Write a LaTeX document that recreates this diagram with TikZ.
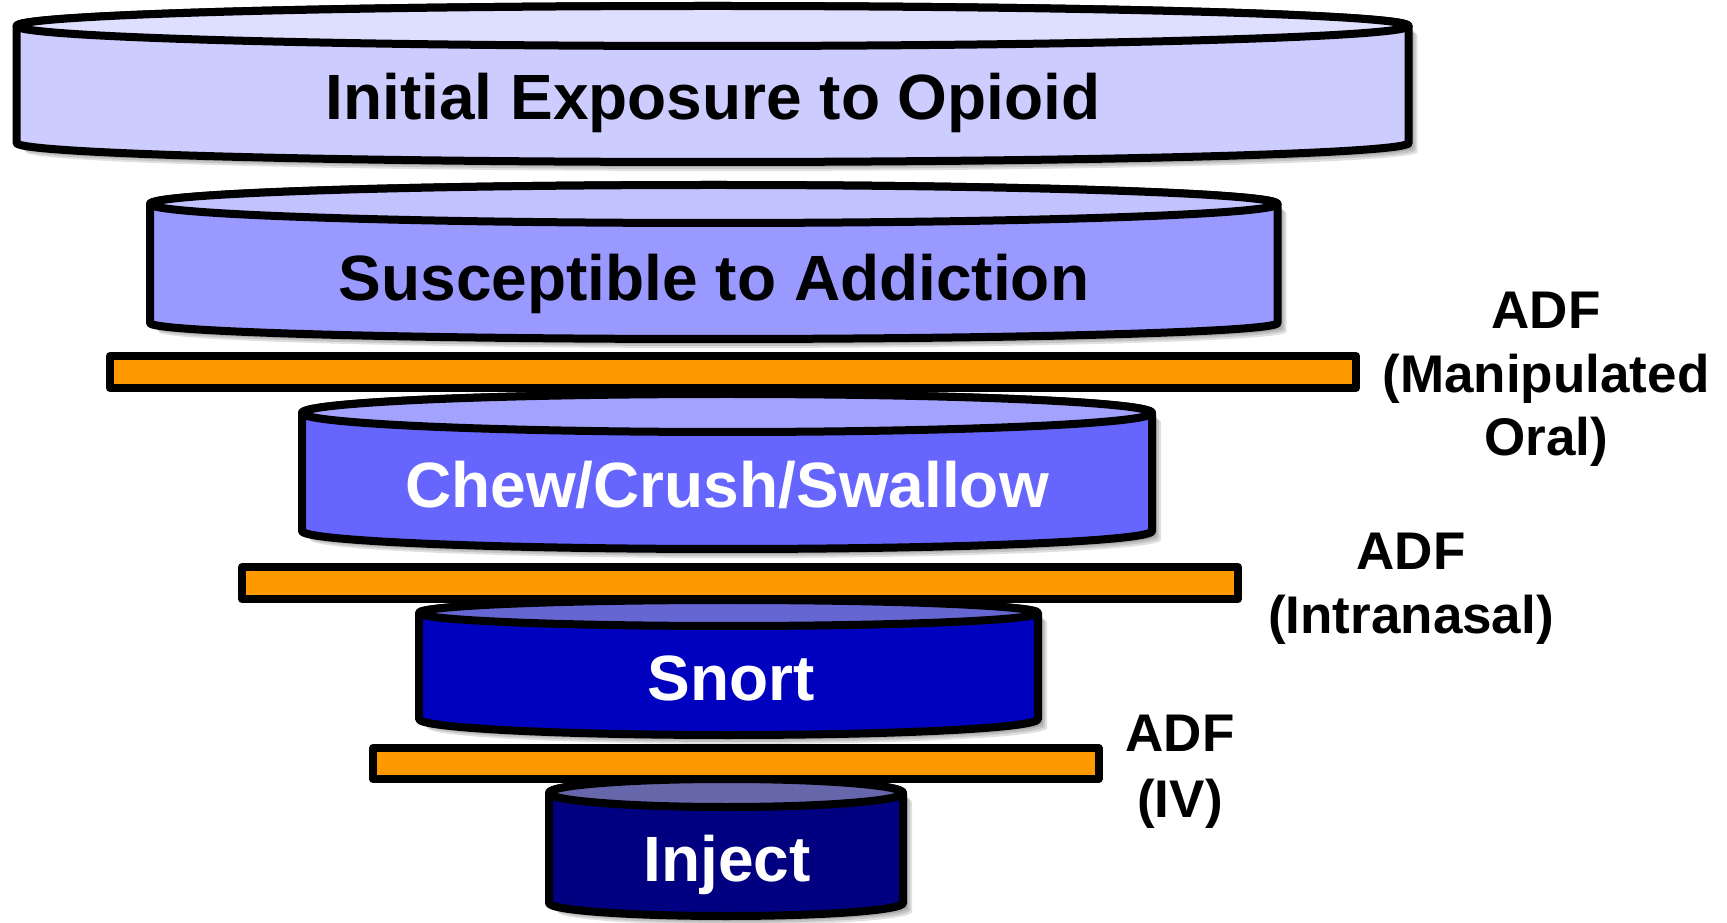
\documentclass[tikz,border=0pt]{standalone}
\usepackage{fontspec}
\setmainfont{Liberation Sans}
\begin{document}
\begin{tikzpicture}[x=1pt,y=1pt,
  cylline/.style={draw=black,line width=8pt,line join=round},
  barbox/.style={draw=black,line width=8pt,fill=adforange,line join=round},
  shadowc/.style={fill=black,opacity=0.12},
  maintext/.style={font=\fontsize{64}{72}\selectfont\bfseries,inner sep=0pt,anchor=base},
  adftext/.style={font=\fontsize{53}{62}\selectfont\bfseries,inner sep=0pt,anchor=base,text=black}]
\definecolor{adforange}{HTML}{FF9900}
\definecolor{sideA}{HTML}{CCCCFF}\definecolor{topA}{HTML}{DEDEFF}
\definecolor{sideB}{HTML}{9999FF}\definecolor{topB}{HTML}{C2C2FF}
\definecolor{sideC}{HTML}{6666FF}\definecolor{topC}{HTML}{A3A3FF}
\definecolor{sideD}{HTML}{0000BF}\definecolor{topD}{HTML}{6666D2}
\definecolor{sideE}{HTML}{000080}\definecolor{topE}{HTML}{6666AA}
% #1 cx, #2 rx, #3 top cy (from top), #4 top ry, #5 bottom cy, #6 bottom ry, #7 side, #8 top
\newcommand\cylbody[6]{({#1-#2},{922-#3}) -- ({#1-#2},{922-#5})
    arc[start angle=180,end angle=360,x radius=#2,y radius=#6] -- ({#1+#2},{922-#3})
    arc[start angle=0,end angle=180,x radius=#2,y radius=#4] -- cycle}
\newcommand\funnelcyl[8]{%
  \foreach \s in {3,5,7,9}{\fill[shadowc,xshift=\s pt,yshift=-\s pt] \cylbody{#1}{#2}{#3}{#4}{#5}{#6};}
  \draw[cylline,fill=#7] \cylbody{#1}{#2}{#3}{#4}{#5}{#6};
  \draw[cylline,fill=#8] (#1,{922-#3}) ellipse[x radius=#2,y radius=#4];
}
\fill[white] (0,0) rectangle (1727,922);
\useasboundingbox (0,0) rectangle (1727,922);
% cylinders
\funnelcyl{712.6}{696}{26}{20}{143}{19}{sideA}{topA}
\funnelcyl{713.75}{563.75}{204}{19}{323}{16}{sideB}{topB}
\funnelcyl{727}{425}{413}{19}{531}{18}{sideC}{topC}
\funnelcyl{728.5}{309.5}{613}{13}{719}{16}{sideD}{topD}
\funnelcyl{726}{177}{793}{14}{903}{13}{sideE}{topE}
% texts
\node[maintext] (t1) at (713,{922-120}) {Initial Exposure to Opioid};
\node[maintext] (t2) at (714,{922-301}) {Susceptible to Addiction};
\node[maintext,text=white] (t3) at (727,{922-508}) {Chew/Crush/Swallow};
\node[maintext,text=white] (t4) at (731,{922-700}) {Snort};
\node[maintext,text=white] (t5) at (727,{922-881}) {Inject};
% bars
\draw[barbox] (110,{922-356}) rectangle (1356,{922-388});
\draw[barbox] (242,{922-567}) rectangle (1238,{922-599});
\draw[barbox] (373,{922-748}) rectangle (1098.5,{922-779});
% labels
\node[adftext] (l1a) at (1546,{922-329}) {ADF};
\node[adftext] (l1b) at (1546,{922-393}) {(Manipulated};
\node[adftext] (l1c) at (1546,{922-456}) {Oral)};
\node[adftext] (l2a) at (1411,{922-570}) {ADF};
\node[adftext] (l2b) at (1411,{922-634}) {(Intranasal)};
\node[adftext] (l3a) at (1180,{922-751}) {ADF};
\node[adftext] (l3b) at (1180,{922-817}) {(IV)};
\end{tikzpicture}
\end{document}
